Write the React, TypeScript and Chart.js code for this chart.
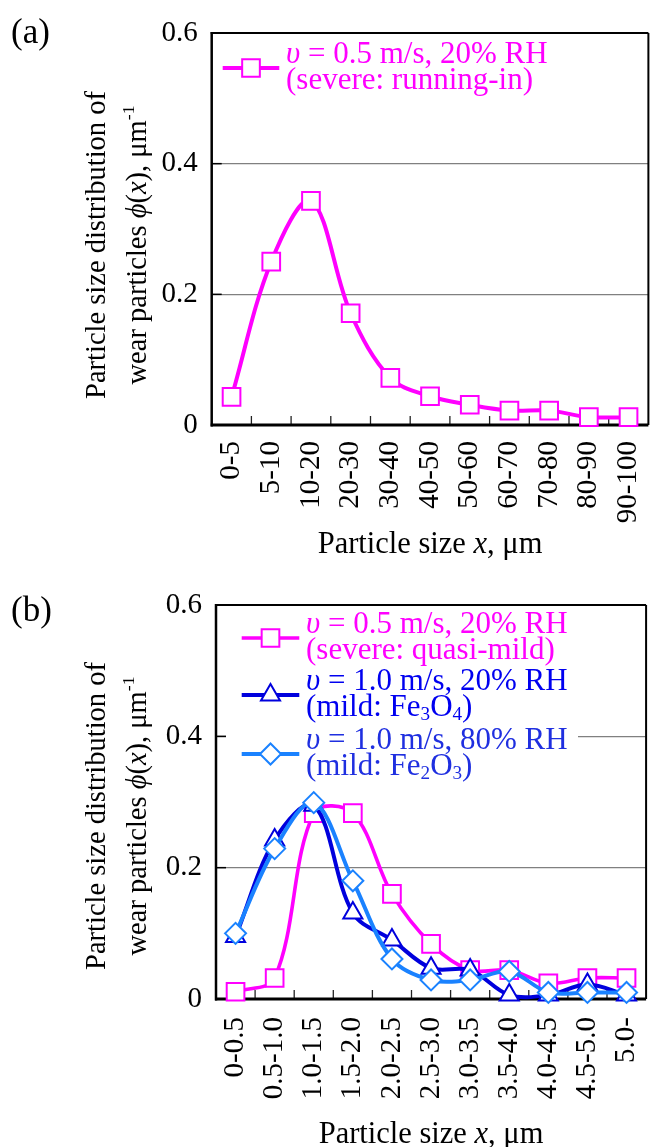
import React, { useEffect, useRef } from "react";
import { Chart, registerables } from "chart.js";
import { drawPoint } from "chart.js/helpers";

Chart.register(...registerables);

const FONT_FAMILY = '"Liberation Serif", "Times New Roman", serif';

// ---------------- Data ----------------
const sizeLabelsA = ["0-5", "5-10", "10-20", "20-30", "30-40", "40-50", "50-60", "60-70", "70-80", "80-90", "90-100"];
const severeRunningIn = [0.043, 0.25, 0.343, 0.171, 0.072, 0.044, 0.031, 0.022, 0.022, 0.012, 0.012];

const sizeLabelsB = ["0-0.5", "0.5-1.0", "1.0-1.5", "1.5-2.0", "2.0-2.5", "2.5-3.0", "3.0-3.5", "3.5-4.0", "4.0-4.5", "4.5-5.0", "5.0-"];
const severeQuasiMild = [0.011, 0.032, 0.283, 0.283, 0.16, 0.084, 0.044, 0.044, 0.024, 0.032, 0.032];
const mildFe3O4 = [0.095, 0.242, 0.295, 0.131, 0.09, 0.047, 0.044, 0.006, 0.006, 0.022, 0.006];
const mildFe2O3 = [0.1, 0.229, 0.299, 0.18, 0.061, 0.029, 0.029, 0.042, 0.01, 0.01, 0.01];

const yTickValues = [0, 0.2, 0.4, 0.6];
const yMin = 0;
const yMax = 0.6;

type Seg = { t: string; it?: boolean; sub?: boolean; sup?: boolean };

const yTitleLine1: Seg[] = [{ t: "Particle size distribution of" }];
const yTitleLine2: Seg[] = [
  { t: "wear particles " },
  { t: "ϕ", it: true },
  { t: "(" },
  { t: "x", it: true },
  { t: "), μm" },
  { t: "-1", sup: true },
];
const xTitle: Seg[] = [{ t: "Particle size " }, { t: "x", it: true }, { t: ", μm" }];

const legendTextA: Seg[][][] = [
  [[{ t: "υ", it: true }, { t: " = 0.5 m/s, 20% RH" }], [{ t: "(severe: running-in)" }]],
];
const legendTextB: Seg[][][] = [
  [[{ t: "υ", it: true }, { t: " = 0.5 m/s, 20% RH" }], [{ t: "(severe: quasi-mild)" }]],
  [
    [{ t: "υ", it: true }, { t: " = 1.0 m/s, 20% RH" }],
    [{ t: "(mild: Fe" }, { t: "3", sub: true }, { t: "O" }, { t: "4", sub: true }, { t: ")" }],
  ],
  [
    [{ t: "υ", it: true }, { t: " = 1.0 m/s, 80% RH" }],
    [{ t: "(mild: Fe" }, { t: "2", sub: true }, { t: "O" }, { t: "3", sub: true }, { t: ")" }],
  ],
];

// ---------------- Styles ----------------
const MAGENTA = "#ff00ff";
const DARK_BLUE = "#0000dd";
const LIGHT_BLUE = "#1a82ff";
const LEGEND_TEXT_COLORS_A = [MAGENTA];
const LEGEND_TEXT_COLORS_B = [MAGENTA, "#0000f0", "#1f2fe0"];

const TICK_SIZE = 29;
const LEGEND_SIZE = 31;
const X_TITLE_SIZE = 30.5;
const Y_TITLE_SIZE = 28.5;
const PANEL_SIZE = 35;

function fontStr(size: number, italic?: boolean) {
  return `${italic ? "italic " : ""}${size}px ${FONT_FAMILY}`;
}

function segSize(s: Seg, size: number) {
  return s.sub || s.sup ? size * 0.62 : size;
}

function drawRich(
  ctx: CanvasRenderingContext2D,
  segs: Seg[],
  x: number,
  y: number,
  size: number,
  color: string,
  align: "left" | "center"
) {
  let total = 0;
  for (const s of segs) {
    ctx.font = fontStr(segSize(s, size), s.it);
    total += ctx.measureText(s.t).width;
  }
  let cx = align === "center" ? x - total / 2 : x;
  ctx.fillStyle = color;
  ctx.textAlign = "left";
  ctx.textBaseline = "alphabetic";
  for (const s of segs) {
    ctx.font = fontStr(segSize(s, size), s.it);
    const dy = s.sub ? size * 0.14 : s.sup ? -size * 0.42 : 0;
    ctx.fillText(s.t, cx, y + dy);
    cx += ctx.measureText(s.t).width;
  }
}

interface PanelSpec {
  key: string;
  canvasW: number;
  canvasH: number;
  top: number;
  left: number;
  right: number;
  bottom: number;
  labels: string[];
  datasets: any[];
  panel: string;
  panelBaseline: number;
  legend: Seg[][][];
  legendColors: string[];
  legendBox: [number, number, number, number];
  legendRows: number[];
  legendLineX: [number, number];
  legendTextX: number;
  xTickPad: number;
  xTitleBaseline: number;
  yTitleOffset: number;
}

function line(ctx: CanvasRenderingContext2D, x0: number, y0: number, x1: number, y1: number) {
  ctx.beginPath();
  ctx.moveTo(x0, y0);
  ctx.lineTo(x1, y1);
  ctx.stroke();
}

function decoPlugin(spec: PanelSpec) {
  return {
    id: "deco" + spec.key,
    beforeDatasetsDraw(chart: any) {
      const { ctx, chartArea: ca, scales } = chart;
      ctx.save();
      ctx.strokeStyle = "#000";
      ctx.lineWidth = 1.5;
      for (const v of yTickValues) {
        if (v === yMin || v === yMax) continue;
        const y = scales.y.getPixelForValue(v);
        line(ctx, ca.left, y, ca.left + 10, y);
      }
      ctx.lineWidth = 1.3;
      ctx.strokeStyle = "#222";
      for (let i = 1; i < spec.labels.length; i++) {
        const x = scales.x.getPixelForValue(i - 0.5);
        line(ctx, x, ca.bottom, x, ca.bottom - 9);
      }
      ctx.strokeStyle = "#000";
      ctx.lineWidth = 2;
      line(ctx, ca.left - 1, ca.top, ca.right, ca.top);
      line(ctx, ca.right, ca.top, ca.right, ca.bottom);
      ctx.lineWidth = 2.5;
      line(ctx, ca.left, ca.top - 1, ca.left, ca.bottom + 1.5);
      ctx.lineWidth = 3;
      line(ctx, ca.left - 1, ca.bottom, ca.right, ca.bottom);
      ctx.restore();
    },
    afterDatasetsDraw(chart: any) {
      const { ctx } = chart;
      ctx.save();
      const [bx, by, bw, bh] = spec.legendBox;
      ctx.fillStyle = "#fff";
      ctx.fillRect(bx, by, bw, bh);
      spec.legend.forEach((entry, i) => {
        const ds = chart.data.datasets[i];
        const y = spec.legendRows[i];
        const [x0, x1] = spec.legendLineX;
        ctx.strokeStyle = ds.borderColor;
        ctx.lineWidth = ds.borderWidth;
        line(ctx, x0, y, x1, y);
        ctx.fillStyle = ds.pointBackgroundColor;
        ctx.strokeStyle = ds.pointBorderColor;
        ctx.lineWidth = ds.pointBorderWidth;
        drawPoint(
          ctx,
          { pointStyle: ds.pointStyle, radius: ds.pointRadius, rotation: 0, borderWidth: ds.pointBorderWidth } as any,
          (x0 + x1) / 2,
          y
        );
        entry.forEach((segs, j) => {
          drawRich(ctx, segs, spec.legendTextX, y - 5 + j * 26, LEGEND_SIZE, spec.legendColors[i], "left");
        });
      });
      ctx.restore();
    },
    afterDraw(chart: any) {
      const { ctx, chartArea: ca } = chart;
      ctx.save();
      ctx.font = fontStr(PANEL_SIZE);
      ctx.fillStyle = "#000";
      ctx.textAlign = "left";
      ctx.textBaseline = "alphabetic";
      ctx.fillText(spec.panel, 11, spec.panelBaseline);
      drawRich(ctx, xTitle, (ca.left + ca.right) / 2, spec.xTitleBaseline, X_TITLE_SIZE, "#000", "center");
      const cy = (ca.top + ca.bottom) / 2 + spec.yTitleOffset;
      ctx.save();
      ctx.translate(105, cy);
      ctx.rotate(-Math.PI / 2);
      drawRich(ctx, yTitleLine1, 0, 0, Y_TITLE_SIZE, "#000", "center");
      ctx.restore();
      ctx.save();
      ctx.translate(146, cy);
      ctx.rotate(-Math.PI / 2);
      drawRich(ctx, yTitleLine2, 0, 0, Y_TITLE_SIZE, "#000", "center");
      ctx.restore();
      ctx.restore();
    },
  };
}

function buildConfig(spec: PanelSpec): any {
  return {
    type: "line",
    data: { labels: spec.labels, datasets: spec.datasets },
    options: {
      animation: false,
      responsive: false,
      devicePixelRatio: 1,
      events: [],
      layout: { padding: { top: spec.top, right: spec.canvasW - spec.right, left: 0, bottom: 0 } },
      plugins: { legend: { display: false }, tooltip: { enabled: false }, title: { display: false } },
      scales: {
        x: {
          type: "category",
          offset: true,
          grid: { display: false, drawTicks: false },
          border: { display: false },
          ticks: {
            autoSkip: false,
            minRotation: 90,
            maxRotation: 90,
            padding: spec.xTickPad,
            color: "#000",
            font: { family: FONT_FAMILY, size: TICK_SIZE },
          },
          afterFit: (s: any) => {
            s.height = spec.canvasH - spec.bottom;
          },
        },
        y: {
          type: "linear",
          min: yMin,
          max: yMax,
          grid: {
            drawTicks: false,
            lineWidth: 1.3,
            color: (c: any) =>
              c.tick && (Math.abs(c.tick.value - yMin) < 1e-9 || Math.abs(c.tick.value - yMax) < 1e-9)
                ? "rgba(0,0,0,0)"
                : "#808080",
          },
          border: { display: false },
          ticks: {
            padding: 14,
            color: "#000",
            font: { family: FONT_FAMILY, size: TICK_SIZE },
            callback: (v: any) => (Number(v) === 0 ? "0" : Number(v).toFixed(1)),
          },
          afterBuildTicks: (s: any) => {
            s.ticks = yTickValues.map((v) => ({ value: v }));
          },
          afterFit: (s: any) => {
            s.width = spec.left;
          },
        },
      },
    },
    plugins: [decoPlugin(spec)],
  };
}

function seriesStyle(color: string, pointStyle: string, radius: number, lineWidth: number) {
  return {
    borderColor: color,
    backgroundColor: color,
    borderWidth: lineWidth,
    pointStyle,
    pointRadius: radius,
    pointBorderWidth: 2,
    pointBorderColor: color,
    pointBackgroundColor: "#ffffff",
    tension: 0.35,
    clip: false,
    fill: false,
  };
}

const specA: PanelSpec = {
  key: "A",
  canvasW: 680,
  canvasH: 570,
  top: 33,
  left: 211.7,
  right: 672.6,
  bottom: 425,
  labels: sizeLabelsA,
  datasets: [
    { label: "v = 0.5 m/s, 20% RH (severe: running-in)", data: severeRunningIn, ...seriesStyle(MAGENTA, "rect", 12.5, 4) },
  ],
  panel: "(a)",
  panelBaseline: 43,
  legend: legendTextA,
  legendColors: LEGEND_TEXT_COLORS_A,
  legendBox: [215, 38, 345, 62],
  legendRows: [68],
  legendLineX: [222.7, 279.3],
  legendTextX: 286,
  xTickPad: 16,
  xTitleBaseline: 553,
  yTitleOffset: 16,
};

const specB: PanelSpec = {
  key: "B",
  canvasW: 680,
  canvasH: 577,
  top: 35,
  left: 216,
  right: 670.3,
  bottom: 429,
  labels: sizeLabelsB,
  datasets: [
    { label: "v = 0.5 m/s, 20% RH (severe: quasi-mild)", data: severeQuasiMild, order: 3, ...seriesStyle(MAGENTA, "rect", 12.5, 3.6) },
    { label: "v = 1.0 m/s, 20% RH (mild: Fe3O4)", data: mildFe3O4, order: 2, ...seriesStyle(DARK_BLUE, "triangle", 11, 4) },
    { label: "v = 1.0 m/s, 80% RH (mild: Fe2O3)", data: mildFe2O3, order: 1, ...seriesStyle(LIGHT_BLUE, "rectRot", 10.5, 4) },
  ],
  panel: "(b)",
  panelBaseline: 51,
  legend: legendTextB,
  legendColors: LEGEND_TEXT_COLORS_B,
  legendBox: [226, 42, 352, 173],
  legendRows: [68, 125, 184],
  legendLineX: [241.7, 299.3],
  legendTextX: 306,
  xTickPad: 18,
  xTitleBaseline: 573,
  yTitleOffset: 14,
};

export default function App() {
  const refA = useRef<HTMLCanvasElement>(null);
  const refB = useRef<HTMLCanvasElement>(null);

  useEffect(() => {
    const a = new Chart(refA.current as HTMLCanvasElement, buildConfig(specA));
    const b = new Chart(refB.current as HTMLCanvasElement, buildConfig(specB));
    return () => {
      a.destroy();
      b.destroy();
    };
  }, []);

  return (
    <div
      style={{
        position: "fixed",
        left: 0,
        top: 0,
        width: 670,
        height: 1147,
        overflow: "hidden",
        background: "#ffffff",
      }}
    >
      <canvas
        ref={refA}
        width={specA.canvasW}
        height={specA.canvasH}
        style={{ position: "absolute", left: 0, top: 0, width: specA.canvasW, height: specA.canvasH }}
      />
      <canvas
        ref={refB}
        width={specB.canvasW}
        height={specB.canvasH}
        style={{ position: "absolute", left: 0, top: 570, width: specB.canvasW, height: specB.canvasH }}
      />
    </div>
  );
}
